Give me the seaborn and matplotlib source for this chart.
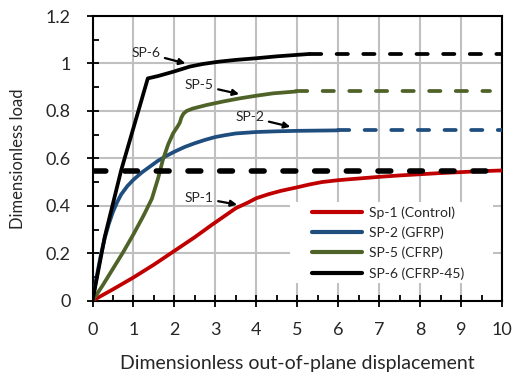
import numpy as np
import pandas as pd
import matplotlib
matplotlib.use("Agg")
import matplotlib.pyplot as plt
from matplotlib.patches import Rectangle
import seaborn as sns

# Load-displacement curves (dimensionless) for the four specimens
sp1_x = [0, 0.5, 1.0, 1.5, 2.0, 2.5, 2.9, 3.2, 3.5, 3.8, 4.0, 4.3, 4.6, 5.0, 5.3, 5.6, 6.0, 6.5, 7.0, 7.5, 8.0, 8.5, 9.0, 9.5, 10.0]
sp1_y = [0, 0.048, 0.098, 0.152, 0.21, 0.268, 0.318, 0.354, 0.39, 0.414, 0.432, 0.449, 0.463, 0.478, 0.49, 0.50, 0.508, 0.515, 0.522, 0.528, 0.533, 0.538, 0.542, 0.546, 0.549]

sp2_x = [0, 0.1, 0.2, 0.3, 0.4, 0.5, 0.6, 0.7, 0.85, 1.0, 1.2, 1.4, 1.6, 1.8, 2.0, 2.25, 2.5, 2.75, 3.0, 3.25, 3.5, 4.0, 4.5, 5.0, 6.0]
sp2_y = [0, 0.10, 0.19, 0.265, 0.325, 0.375, 0.415, 0.448, 0.483, 0.51, 0.54, 0.565, 0.59, 0.61, 0.628, 0.648, 0.664, 0.678, 0.69, 0.698, 0.705, 0.711, 0.714, 0.716, 0.718]

sp5_x = [0, 0.25, 0.5, 0.75, 1.0, 1.25, 1.45, 1.6, 1.72, 1.85, 1.97, 2.08, 2.13, 2.17, 2.22, 2.3, 2.45, 2.79, 3.2, 3.6, 4.0, 4.41, 4.98]
sp5_y = [0, 0.065, 0.135, 0.205, 0.28, 0.36, 0.43, 0.515, 0.595, 0.66, 0.706, 0.735, 0.75, 0.772, 0.788, 0.80, 0.81, 0.825, 0.84, 0.853, 0.864, 0.874, 0.882]

sp6_x = [0, 0.3, 0.7, 1.35, 1.6, 1.97, 2.38, 2.7, 3.11, 3.5, 4.0, 4.5, 4.98, 5.3]
sp6_y = [0, 0.27, 0.55, 0.937, 0.947, 0.965, 0.987, 0.998, 1.008, 1.015, 1.022, 1.03, 1.036, 1.04]

labels = ["Sp-1 (Control)", "SP-2 (GFRP)", "SP-5 (CFRP)", "SP-6 (CFRP-45)"]
colors = ["#C00000", "#1F4E7E", "#4F6228", "#000000"]

# Plateau extensions: (x_start, x_end, load)
plateau_sp2 = [6.0, 10.0, 0.718]
plateau_sp5 = [4.98, 9.7, 0.882]
plateau_sp6 = [5.3, 10.0, 1.04]
# Reference load level
ref_level = [0.0, 10.0, 0.548]

# Curve annotations: text, text position, arrow tip
ann_text = ["SP-6", "SP-5", "SP-2", "SP-1"]
ann_xytext = [(1.30, 1.044), (2.60, 0.909), (3.84, 0.774), (2.60, 0.434)]
ann_xy = [(2.27, 1.000), (3.58, 0.871), (4.83, 0.733), (3.53, 0.405)]

frames = []
for lab, xs, ys in zip(labels, [sp1_x, sp2_x, sp5_x, sp6_x], [sp1_y, sp2_y, sp5_y, sp6_y]):
    frames.append(pd.DataFrame({"disp": xs, "load": ys, "specimen": lab}))
df = pd.concat(frames, ignore_index=True)

sns.set_theme(style="white")
plt.rcParams["font.family"] = ["Lato", "DejaVu Sans"]

fig = plt.figure(figsize=(5.14, 3.83), dpi=100)
ax = fig.add_axes([0.180, 0.2149, 0.7967, 0.7433])

sns.lineplot(data=df, x="disp", y="load", hue="specimen", hue_order=labels,
             palette=colors, sort=False, estimator=None, units="specimen",
             lw=2.7, ax=ax, zorder=3)
for ln in ax.get_lines():
    ln.set_solid_capstyle("round")
    ln.set_solid_joinstyle("round")

# Dashed plateau extensions
for (x0, x1, yv), c in zip([plateau_sp2, plateau_sp5, plateau_sp6], colors[1:]):
    ax.plot([x0, x1], [yv, yv], color=c, lw=2.7, linestyle=(0, (3.0, 4.1)),
            dash_capstyle="round", zorder=3)
ax.plot(ref_level[:2], [ref_level[2]] * 2, color="black", lw=4.0,
        linestyle=(0, (2.3, 3.4)), dash_capstyle="round", zorder=4)

for t, xyt, xy in zip(ann_text, ann_xytext, ann_xy):
    ax.annotate(t, xy=xy, xytext=xyt, fontsize=10, ha="center", va="center",
                arrowprops=dict(arrowstyle="-|>", color="black", lw=1.6,
                                mutation_scale=9, shrinkA=1, shrinkB=0),
                zorder=5)

ax.set_xlim(0, 10)
ax.set_ylim(0, 1.2)
ax.set_xticks(np.arange(0, 11, 1))
ax.set_yticks([0, 0.2, 0.4, 0.6, 0.8, 1.0, 1.2])
ax.set_yticklabels(["0", "0.2", "0.4", "0.6", "0.8", "1", "1.2"])
ax.set_xticks(np.arange(0.5, 10, 1), minor=True)
ax.set_yticks(np.arange(0.1, 1.2, 0.2), minor=True)
ax.grid(True, which="major", color="#C0C0C0", lw=1.5, zorder=0)
ax.set_axisbelow(True)
ax.tick_params(which="major", direction="inout", length=9, width=1.3,
               color="black", labelsize=13)
ax.tick_params(axis="x", which="major", pad=10.5)
ax.tick_params(axis="y", which="major", pad=11)
ax.tick_params(which="minor", direction="in", length=4.5, width=1.3, color="black")
ax.tick_params(axis="x", which="both", bottom=True)
ax.tick_params(axis="y", which="both", left=True)
for sp in ax.spines.values():
    sp.set_color("black")
    sp.set_linewidth(1.5)

ax.set_xlabel("Dimensionless out-of-plane displacement", fontsize=14, labelpad=12.5)
ax.set_ylabel("Dimensionless load", fontsize=12)
ax.yaxis.set_label_coords(-0.162, 0.5)

# Legend background panel, hiding the grid behind the entries
ax.add_patch(Rectangle((0.482, 0.062), 0.496, 0.285, transform=ax.transAxes,
                       facecolor="white", edgecolor="none", zorder=1))
leg = ax.legend(loc="upper left", bbox_to_anchor=(0.536, 0.3325), fontsize=10,
                frameon=False, handlelength=3.6, handletextpad=0.5,
                labelspacing=0.56, borderpad=0, borderaxespad=0)
leg.set_zorder(6)
for h in leg.get_lines():
    h.set_linewidth(3.0)
    h.set_solid_capstyle("round")

fig.savefig("out.png", dpi=100)
